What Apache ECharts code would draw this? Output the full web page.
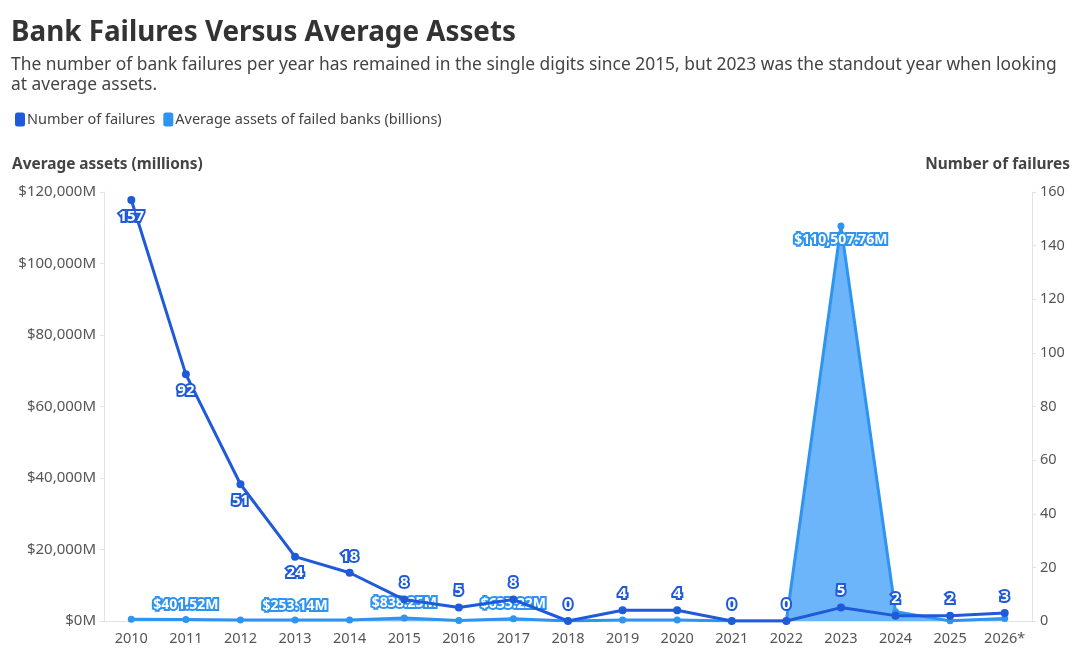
<!DOCTYPE html>
<html>
<head>
<meta charset="utf-8">
<script src="https://cdn.jsdelivr.net/npm/echarts@6/dist/echarts.min.js"></script>
<style>
  html, body { margin: 0; padding: 0; background: #fff; }
  #chart { width: 1078px; height: 658px; }
</style>
</head>
<body>
<div id="chart"></div>
<script>
var years = ['2010', '2011', '2012', '2013', '2014', '2015', '2016', '2017', '2018',
    '2019', '2020', '2021', '2022', '2023', '2024', '2025', '2026*'];
var failures = [157, 92, 51, 24, 18, 8, 5, 8, 0, 4, 4, 0, 0, 5, 2, 2, 3];
// average assets of failed banks, millions of dollars
var avgAssets = [520, 401.52, 300, 253.14, 280, 838.25, 150, 635.22, 0,
    250, 300, 0, 0, 110507.76, 2600, 40, 700];
var assetTicks = [0, 20000, 40000, 60000, 80000, 100000, 120000];

// which points carry a label, and where
var failLabelBelow = ['2010', '2011', '2012', '2013'];
var assetLabelYears = ['2011', '2013', '2015', '2017', '2023'];

var darkBlue = '#1f5ad8';
var lightBlue = '#2f93f0';
var font = '"Noto Sans", sans-serif';

var fmtMoney = function (v) {
    return '$' + v.toLocaleString('en-US', {minimumFractionDigits: 2, maximumFractionDigits: 2}) + 'M';
};

var failData = failures.map(function (v, i) {
    return {
        value: v,
        label: {position: failLabelBelow.indexOf(years[i]) >= 0 ? 'bottom' : 'top'}
    };
});
var assetData = avgAssets.map(function (v, i) {
    var show = assetLabelYears.indexOf(years[i]) >= 0;
    return {
        value: v,
        label: {show: show, position: years[i] === '2023' ? 'bottom' : 'top'}
    };
});

var myChart = echarts.init(document.getElementById('chart'));
myChart.setOption({
    backgroundColor: '#fff',
    textStyle: {fontFamily: font},
    title: {
        text: 'Bank Failures Versus Average Assets',
        subtext: 'The number of bank failures per year has remained in the single digits since 2015, but 2023 was the standout year when looking\nat average assets.',
        left: 6,
        top: 14,
        itemGap: 8,
        textStyle: {fontSize: 27.8, fontWeight: 'bold', color: '#333', fontFamily: font},
        subtextStyle: {fontSize: 17.4, color: '#444', lineHeight: 20, fontFamily: font}
    },
    legend: {
        left: 10,
        top: 107,
        icon: 'roundRect',
        itemWidth: 10,
        itemHeight: 14,
        itemGap: 8,
        textStyle: {fontSize: 14.5, color: '#444', padding: [0, 0, 0, -3], fontFamily: font},
        data: ['Number of failures', 'Average assets of failed banks (billions)']
    },
    graphic: [
        {type: 'text', left: 12, top: 157, style: {text: 'Average assets (millions)', fontSize: 15.4, fontWeight: 'bold', fill: '#444', fontFamily: font}},
        {type: 'text', right: 8, top: 157, style: {text: 'Number of failures', fontSize: 15.4, fontWeight: 'bold', fill: '#444', fontFamily: font}}
    ],
    grid: {left: 104, right: 46, top: 192, bottom: 37},
    xAxis: {
        type: 'category',
        data: years,
        boundaryGap: true,
        axisLine: {lineStyle: {color: '#e3e3e3'}},
        axisTick: {show: false},
        axisLabel: {fontSize: 14.5, color: '#555', margin: 10}
    },
    yAxis: [
        {
            type: 'value',
            min: assetTicks[0],
            max: assetTicks[assetTicks.length - 1],
            interval: assetTicks[1] - assetTicks[0],
            splitLine: {show: false},
            axisLine: {show: true, lineStyle: {color: '#e3e3e3'}},
            axisTick: {show: true, length: 4, lineStyle: {color: '#e3e3e3'}},
            axisLabel: {
                fontSize: 15, color: '#555', margin: 8,
                formatter: function (v) { return '$' + v.toLocaleString('en-US') + 'M'; }
            }
        },
        {
            type: 'value',
            min: 0,
            max: 160,
            interval: 20,
            splitLine: {show: false},
            axisLine: {show: true, lineStyle: {color: '#e3e3e3'}},
            axisTick: {show: true, length: 4, lineStyle: {color: '#e3e3e3'}},
            axisLabel: {fontSize: 14.5, color: '#555', margin: 8}
        }
    ],
    series: [
        {
            name: 'Average assets of failed banks (billions)',
            type: 'line',
            yAxisIndex: 0,
            data: assetData,
            color: lightBlue,
            symbol: 'circle',
            symbolSize: 7,
            lineStyle: {width: 3, color: lightBlue},
            areaStyle: {color: '#6cb5fa', opacity: 1},
            z: 2,
            label: {
                show: true,
                fontSize: 14,
                fontWeight: 'bold',
                color: '#fff',
                textBorderColor: lightBlue,
                textBorderWidth: 4,
                distance: 4,
                formatter: function (p) { return fmtMoney(p.value); }
            }
        },
        {
            name: 'Number of failures',
            type: 'line',
            yAxisIndex: 1,
            data: failData,
            color: darkBlue,
            symbol: 'circle',
            symbolSize: 8,
            lineStyle: {width: 3, color: darkBlue},
            z: 3,
            label: {
                show: true,
                fontSize: 15,
                fontWeight: 'bold',
                color: '#fff',
                textBorderColor: darkBlue,
                textBorderWidth: 4,
                distance: 5
            }
        }
    ]
});
</script>
</body>
</html>
